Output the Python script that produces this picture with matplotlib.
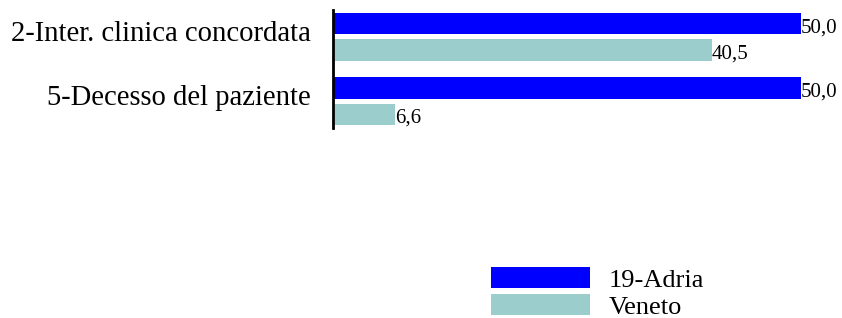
import matplotlib
matplotlib.use("Agg")
import matplotlib.pyplot as plt
import numpy as np

categories = ["2-Inter. clinica concordata", "5-Decesso del paziente"]
series_names = ["19-Adria", "Veneto"]
adria = [50.0, 50.0]
veneto = [40.5, 6.6]
colors = ["#0000ff", "#9ccdcd"]

plt.rcParams["font.family"] = ["Liberation Serif", "DejaVu Serif"]

W, H = 842, 318
fig = plt.figure(figsize=(W / 100, H / 100), dpi=100)
# axes placed in pixel terms: left edge 333, top 10, bottom 128
x0, x1 = 333, 838
y_top, y_bot = 10, 128
ax = fig.add_axes([x0 / W, 1 - y_bot / H, (x1 - x0) / W, (y_bot - y_top) / H])

pos = np.arange(len(categories))
h = 0.336
off = 0.207
b1 = ax.barh(pos - off, adria, height=h, color=colors[0], label=series_names[0])
b2 = ax.barh(pos + off, veneto, height=h, color=colors[1], label=series_names[1])

for bars, vals in ((b1, adria), (b2, veneto)):
    for rect, v in zip(bars, vals):
        ax.annotate(f"{v:.1f}".replace(".", ","),
                    (rect.get_width(), rect.get_y() + rect.get_height() / 2),
                    xytext=(0, -4), textcoords="offset pixels",
                    ha="left", va="center", fontsize=15)

ax.set_xlim(0, (x1 - x0) / 9.36)
ax.set_ylim(1.42, -0.42)
ax.set_yticks(pos - 0.1)
ax.set_yticklabels(categories, fontsize=20.6)
ax.tick_params(axis="y", length=0, pad=16)
ax.set_xticks([])
for s in ("top", "right", "bottom"):
    ax.spines[s].set_visible(False)
ax.spines["left"].set_linewidth(2)

fig.legend(loc="upper left", bbox_to_anchor=(470 / W, 1 - 246 / H),
           frameon=False, fontsize=19, handlelength=3.75, handleheight=0.85,
           labelspacing=0.08, handletextpad=0.7, borderpad=0.3)

fig.savefig("out.png", dpi=100)
